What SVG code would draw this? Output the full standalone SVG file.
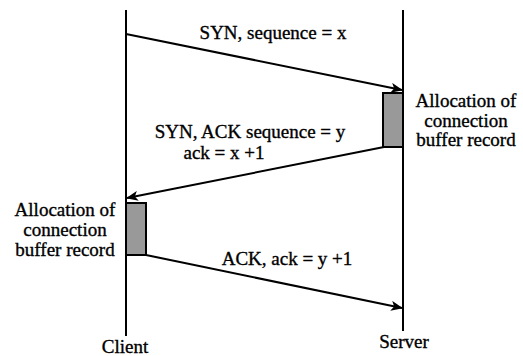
<svg xmlns="http://www.w3.org/2000/svg" width="523" height="356" viewBox="0 0 523 356">
<style>
text{font-family:'Liberation Serif',serif;font-size:19px;fill:#000;text-anchor:middle;stroke:#000;stroke-width:0.35}
.ln{stroke:#000;stroke-width:2;fill:none}
.msg{stroke:#000;stroke-width:2;fill:none;marker-end:url(#ah)}
.box{fill:#999;stroke:#000;stroke-width:2}
</style>
<defs>
<marker id="ah" markerWidth="12" markerHeight="10" refX="11" refY="5" orient="auto" markerUnits="userSpaceOnUse">
<path d="M0,0 L12,5 L0,10 L3,5 z" fill="#000"/>
</marker>
</defs>
<g id="client">
<line class="ln" x1="126" y1="10" x2="126" y2="336"/>
<text x="125" y="353">Client</text>
</g>
<g id="server">
<line class="ln" x1="403" y1="10" x2="403" y2="331"/>
<text x="404" y="348">Server</text>
</g>
<g id="server-alloc">
<rect class="box" x="383" y="93" width="20" height="54"/>
<text x="466" y="107">Allocation of</text>
<text x="466" y="127">connection</text>
<text x="466" y="146">buffer record</text>
</g>
<g id="client-alloc">
<rect class="box" x="126" y="203" width="20" height="52"/>
<text x="65" y="216">Allocation of</text>
<text x="65" y="236">connection</text>
<text x="65" y="256">buffer record</text>
</g>
<g id="connectors">
<line class="msg" x1="126" y1="34" x2="402" y2="90"/>
<line class="msg" x1="384" y1="147" x2="127" y2="198"/>
<line class="msg" x1="146" y1="255" x2="402" y2="308"/>
<text x="273" y="39">SYN, sequence = x</text>
<text x="250" y="138">SYN, ACK sequence = y</text>
<text x="224" y="159" font-size="18">ack = x +1</text>
<text x="287" y="265">ACK, ack = y +1</text>
</g>
</svg>
